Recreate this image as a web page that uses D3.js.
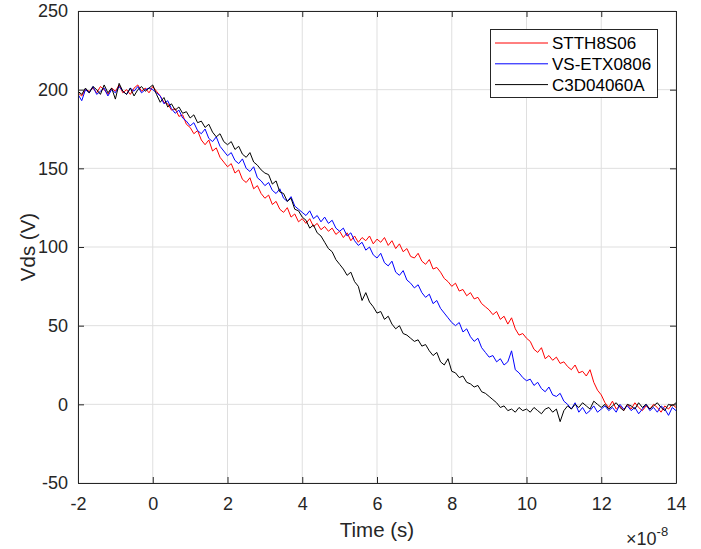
<!DOCTYPE html>
<html><head><meta charset="utf-8">
<script src="https://cdn.jsdelivr.net/npm/d3@7"></script>
<style>body{margin:0;background:#fff;} svg{display:block;font-family:"Liberation Sans",Arial,sans-serif;}</style>
</head><body><svg id="c" width="701" height="549"></svg>
<script>
// time axis: -2 .. 14 (x1e-8 s), step 0.1
const tStart = -2, tStep = 0.1;
const seriesNames = ["STTH8S06", "VS-ETX0806", "C3D04060A"];
const seriesColors = ["#ff0000", "#0000ff", "#000000"];
const xTicks = [-2, 0, 2, 4, 6, 8, 10, 12, 14];
const yTicks = [-50, 0, 50, 100, 150, 200, 250];

const red = [
 198,196,200,199,201,198,202,200,197,201,199,203,198,200,197,201,203,199,201,198,202,
 199,196,192,191,187,188,183,184,178,176,
 172,174,168,165,168,161,163,157,154,151,
 153,147,149,143,141,144,137,139,134,131,
 133,127,129,124,122,125,119,121,116,118,
 115,118,113,115,111,113,110,112,108,110,
 106,109,104,107,103,106,104,107,102,105,
 103,106,101,104,99,102,97,99,94,93,
 96,91,89,92,86,87,84,80,78,75,
 77,72,73,69,71,67,68,64,62,60,
 57,59,54,56,51,55,48,44,45,42,
 40,35,33,36,29,31,28,30,26,27,
 24,22,25,20,21,18,22,14,9,6,
 1,-2,2,-3,-1,-4,0,-3,1,-2,
 -4,-1,-3,0,-2,-5,-1,-3,0,-2
];
const blue = [
 197,193,200,198,202,197,199,201,196,200,198,202,199,197,201,199,202,198,200,201,200,
 198,196,191,193,188,185,187,182,180,177,
 179,174,172,175,169,167,170,164,161,158,
 160,155,153,156,150,148,151,144,142,139,
 141,136,134,137,131,129,132,126,124,122,
 120,123,118,120,116,119,115,117,112,110,
 112,107,109,104,101,103,98,100,95,93,
 96,90,88,91,84,82,85,79,77,74,
 76,71,68,70,64,66,61,58,55,52,
 50,52,46,48,43,40,42,36,33,30,
 31,27,29,25,27,34,22,20,17,15,
 16,12,14,10,8,11,6,5,7,2,
 0,-3,1,-5,-2,-6,-4,-1,-5,-3,
 -1,-4,-2,-5,0,-3,-1,-4,-2,-6,
 -3,0,-4,-2,-5,-1,-3,-7,-2,-4
];
const black = [
 199,197,201,198,202,200,197,203,198,201,194,204,199,197,201,196,200,202,199,201,203,
 197,192,195,189,191,187,189,185,186,182,
 184,179,180,176,178,173,170,172,167,165,
 167,162,164,159,157,160,154,152,149,147,
 146,140,142,135,134,129,131,124,123,119,
 117,112,114,109,107,103,99,97,92,89,
 86,82,84,78,75,66,71,65,62,58,
 59,54,56,51,48,50,45,44,42,40,
 41,37,38,34,31,33,27,25,29,21,
 20,17,18,14,13,11,12,8,7,5,
 3,1,-2,-1,-4,-3,-5,-2,-4,-3,
 -5,-2,-4,-6,-3,-2,-5,-3,-11,-4,
 -1,-3,0,-2,1,-1,-3,2,0,-2,
 0,-3,-1,1,-2,-4,0,-1,-3,1,
 -2,0,-3,-1,1,-2,-4,0,-1,1
];
const seriesValues = [red, blue, black];

const svg = d3.select("#c");
const L = 78, T = 11, R = 676, B = 483;
const x = d3.scaleLinear().domain([-2, 14]).range([L, R]);
const y = d3.scaleLinear().domain([-50, 250]).range([B, T]);
const axisCol = "#262626";
const fmt = d => String(d);

// grid
const g = svg.append("g");
g.selectAll(".gx").data(xTicks).enter().append("line")
  .attr("x1", d => x(d)).attr("x2", d => x(d)).attr("y1", T).attr("y2", B)
  .attr("stroke", "#dfdfdf").attr("stroke-width", 1);
g.selectAll(".gy").data(yTicks).enter().append("line")
  .attr("x1", L).attr("x2", R).attr("y1", d => y(d)).attr("y2", d => y(d))
  .attr("stroke", "#dfdfdf").attr("stroke-width", 1);

// lines
svg.append("clipPath").attr("id", "pc").append("rect")
  .attr("x", L).attr("y", T).attr("width", R - L).attr("height", B - T);
const line = d3.line().x((d, i) => x(tStart + i * tStep)).y(d => y(d));
seriesValues.forEach((vals, k) => {
  svg.append("path").datum(vals).attr("d", line)
    .attr("fill", "none").attr("stroke", seriesColors[k]).attr("stroke-width", 1)
    .attr("clip-path", "url(#pc)");
});

// axes (MATLAB style box with inward ticks)
const tickLen = 6;
const axB = svg.append("g").attr("transform", `translate(0,${B})`)
  .call(d3.axisBottom(x).tickValues(xTicks).tickFormat(fmt).tickSizeInner(-tickLen).tickSizeOuter(0).tickPadding(14));
const axT = svg.append("g").attr("transform", `translate(0,${T})`)
  .call(d3.axisTop(x).tickValues(xTicks).tickSizeInner(-tickLen).tickSizeOuter(0).tickFormat(""));
const axL = svg.append("g").attr("transform", `translate(${L},0)`)
  .call(d3.axisLeft(y).tickValues(yTicks).tickFormat(fmt).tickSizeInner(-tickLen).tickSizeOuter(0).tickPadding(10));
const axR = svg.append("g").attr("transform", `translate(${R},0)`)
  .call(d3.axisRight(y).tickValues(yTicks).tickSizeInner(-tickLen).tickSizeOuter(0).tickFormat(""));
[axB, axT, axL, axR].forEach(a => {
  a.select(".domain").attr("stroke", axisCol);
  a.selectAll(".tick line").attr("stroke", axisCol);
  a.selectAll(".tick text").attr("fill", axisCol).style("font-size", "18px")
    .style("font-family", '"Liberation Sans",Arial,sans-serif');
});

// axis labels
svg.append("text").attr("x", (L + R) / 2).attr("y", 537).attr("text-anchor", "middle")
  .attr("fill", axisCol).style("font-size", "20.5px").text("Time (s)");
svg.append("text").attr("transform", `translate(35,${(T + B) / 2}) rotate(-90)`)
  .attr("text-anchor", "middle").attr("fill", axisCol).style("font-size", "20.5px").text("Vds (V)");

// exponent
const ex = svg.append("text").attr("x", 626).attr("y", 545).attr("fill", axisCol).style("font-size", "18px");
ex.append("tspan").text("\u00d710");
ex.append("tspan").attr("dy", -9).style("font-size", "13px").text("-8");

// legend
const lg = svg.append("g");
lg.append("rect").attr("x", 490.5).attr("y", 29.5).attr("width", 167).attr("height", 68)
  .attr("fill", "#fff").attr("stroke", axisCol).attr("stroke-width", 1);
seriesNames.forEach((n, k) => {
  const yy = 43 + k * 20.8;
  lg.append("line").attr("x1", 495).attr("x2", 548).attr("y1", yy).attr("y2", yy)
    .attr("stroke", seriesColors[k]).attr("stroke-width", 1);
  lg.append("text").attr("x", 552).attr("y", yy + 6).attr("fill", "#000")
    .style("font-size", "17px").text(n);
});
</script></body></html>
